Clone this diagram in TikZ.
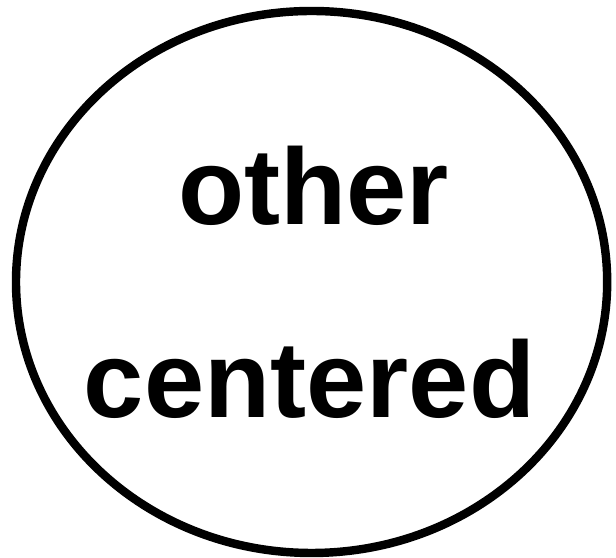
\documentclass[tikz,border=0pt]{standalone}
\usepackage{fontspec}
\setmainfont{Liberation Sans}
\usepackage{tikz}
\usetikzlibrary{positioning,shapes.geometric}
\tikzset{
  ring/.style={ellipse,draw=black,line width=6pt,inner sep=0pt,
               minimum width=14.78cm,minimum height=13.55cm},
  word/.style={anchor=base,inner sep=0pt,
               font=\fontsize{77}{92}\selectfont\bfseries},
}

\begin{document}
\begin{tikzpicture}
  \useasboundingbox (0,0) rectangle (15.4,13.95);
  % outline
  \node[ring] (orbit) at (7.79,6.9) {};
  % the two words
  \node[word] (upper) at (7.84,8.33) {other};
  \node[word] (lower) at (7.74,3.5) {centered};
\end{tikzpicture}
\end{document}
